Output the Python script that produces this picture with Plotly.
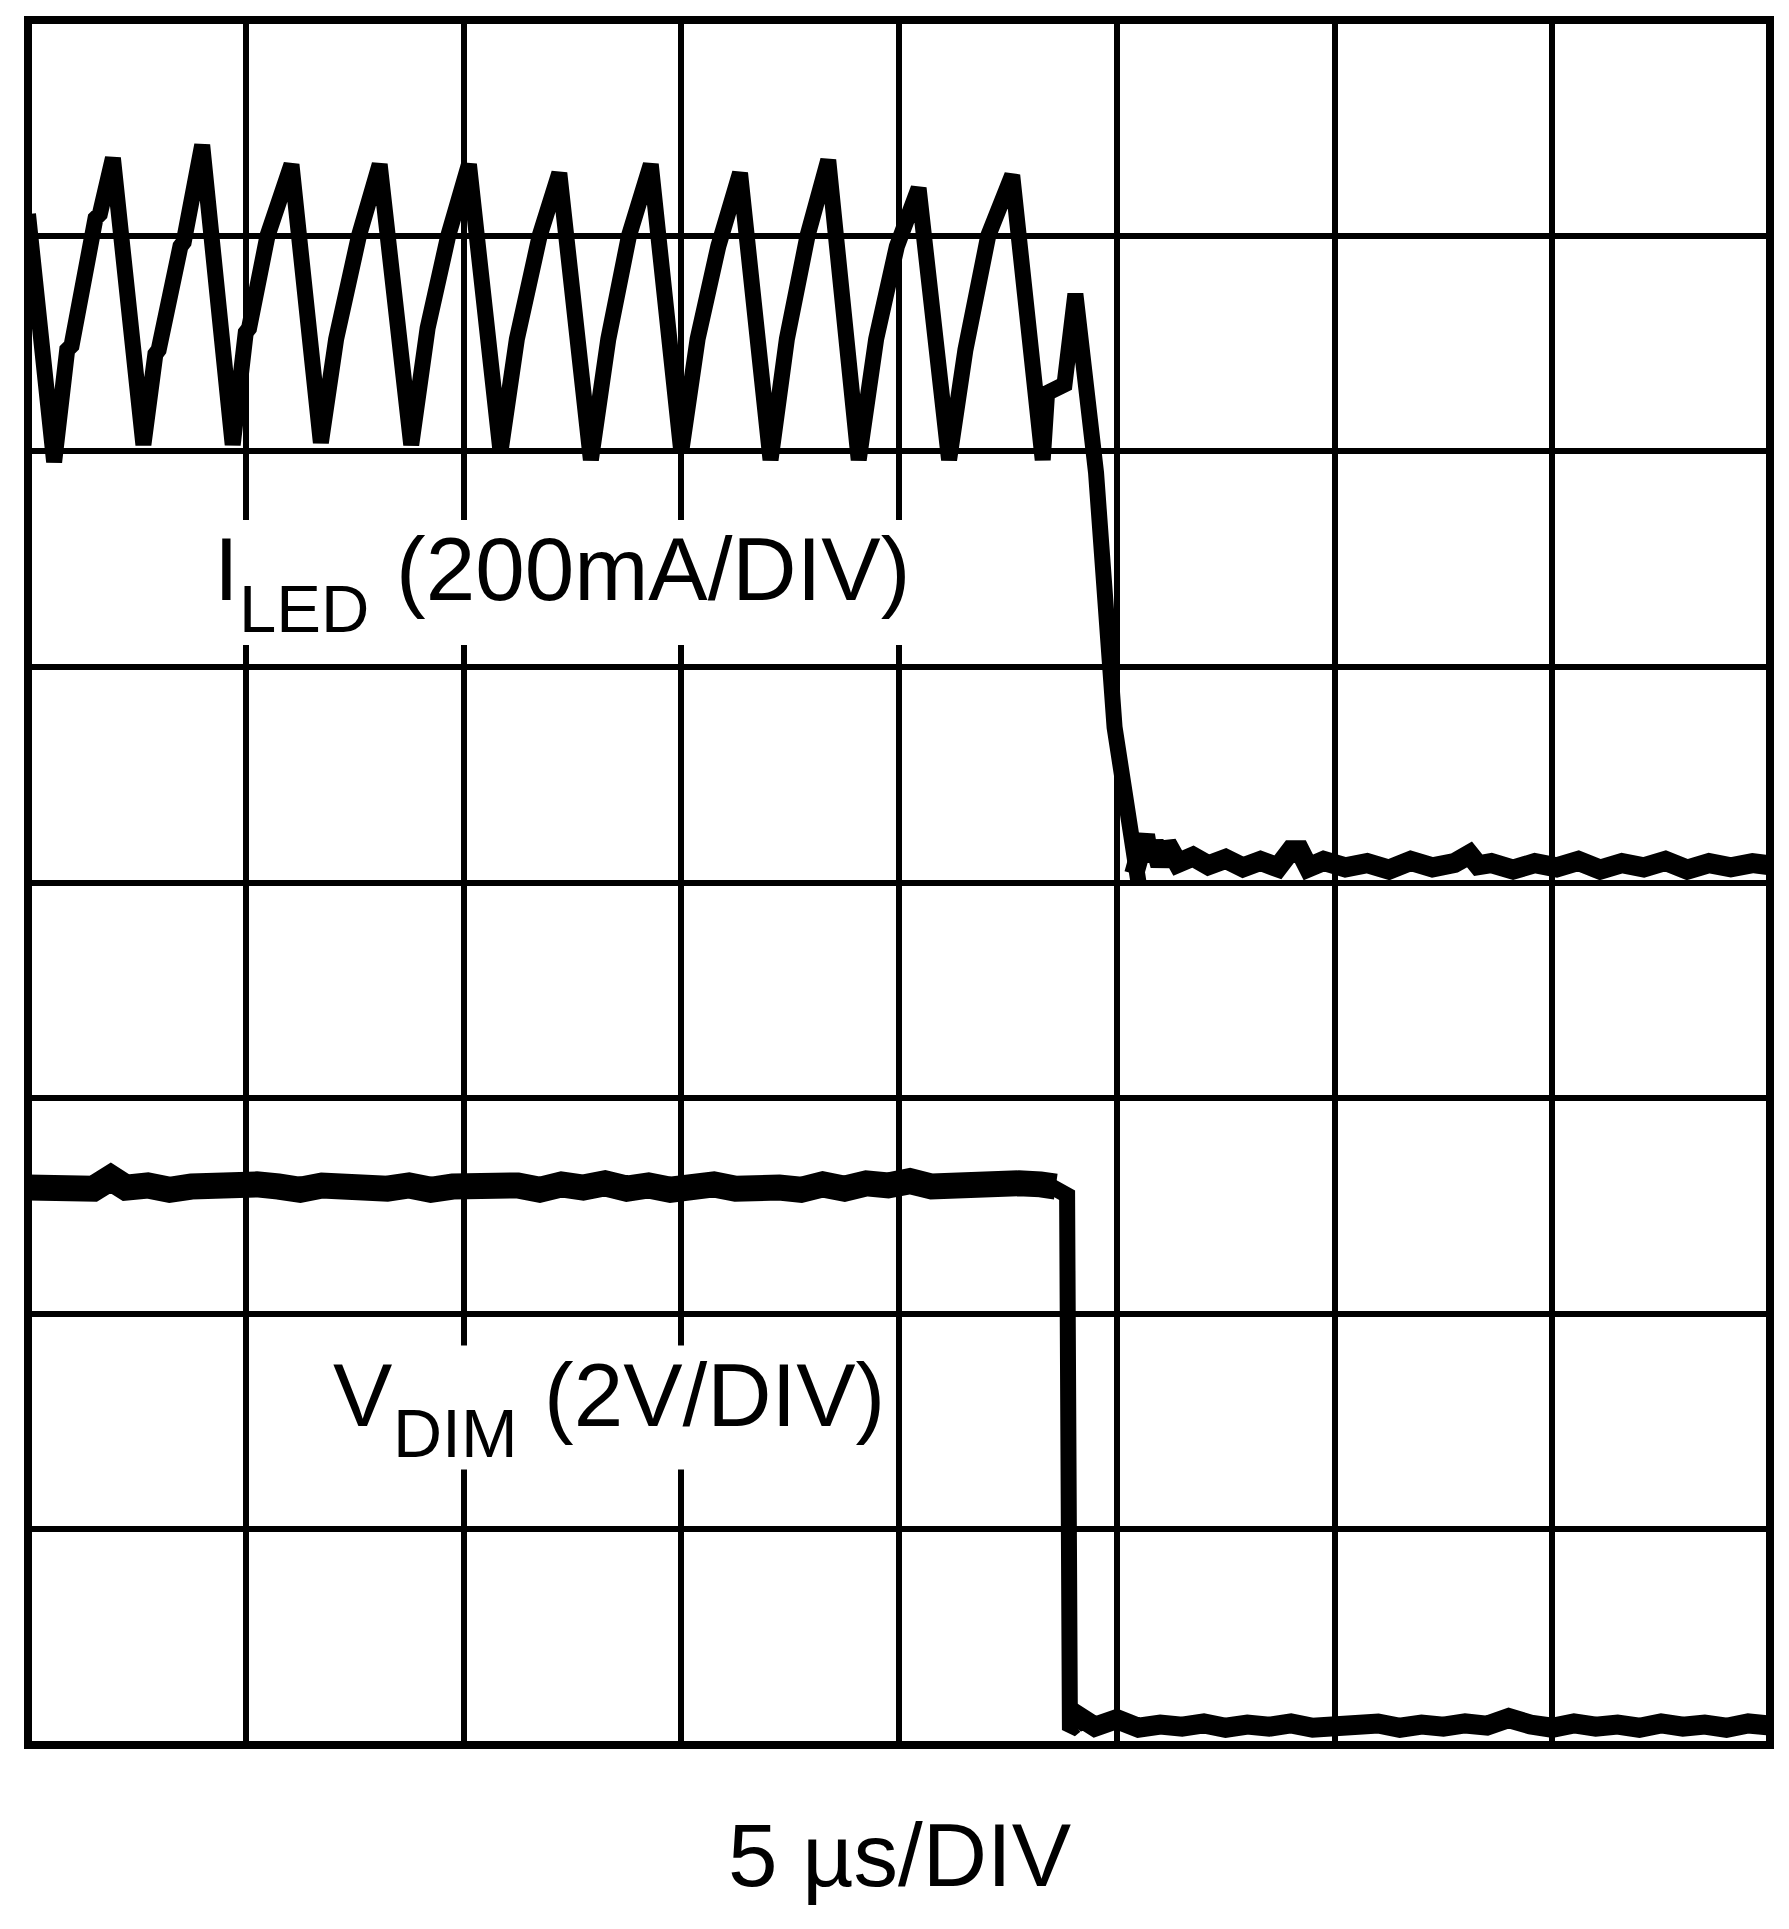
import plotly.graph_objects as go

# ---- data (time and amplitude in scope divisions) ----
iled_ripple_t = [0.00, 0.12, 0.18, 0.20, 0.31, 0.33, 0.39,
                 0.53, 0.585, 0.60, 0.70, 0.715, 0.80,
                 0.94, 1.00, 1.015, 1.10, 1.21,
                 1.345, 1.40, 1.415, 1.52, 1.615,
                 1.76, 1.82, 1.835, 1.93, 2.025,
                 2.17, 2.23, 2.245, 2.35, 2.44,
                 2.585, 2.65, 2.665, 2.76, 2.86,
                 3.00, 3.06, 3.075, 3.17, 3.27,
                 3.41, 3.47, 3.485, 3.58, 3.675,
                 3.815, 3.88, 3.895, 3.99, 4.09,
                 4.23, 4.29, 4.305, 4.41, 4.52,
                 4.66, 4.68, 4.76, 4.78, 4.81,
                 4.905, 4.975, 4.99, 5.10]
iled_ripple_v = [7.10, 5.95, 6.47, 6.49, 7.08, 7.10, 7.36,
                 6.03, 6.45, 6.47, 6.95, 6.97, 7.42,
                 6.03, 6.55, 6.57, 7.00, 7.33,
                 6.04, 6.50, 6.52, 7.00, 7.33,
                 6.03, 6.55, 6.57, 7.00, 7.33,
                 6.00, 6.50, 6.52, 7.00, 7.29,
                 5.96, 6.50, 6.52, 7.00, 7.33,
                 6.00, 6.50, 6.52, 6.95, 7.29,
                 5.96, 6.50, 6.52, 7.00, 7.35,
                 5.96, 6.50, 6.52, 6.95, 7.22,
                 5.96, 6.45, 6.47, 7.00, 7.28,
                 5.96, 6.27, 6.31, 6.47, 6.73,
                 5.90, 5.00, 4.72, 4.00]
iled_flat_t = [5.08, 5.13, 5.15, 5.17, 5.20, 5.23, 5.28, 5.35, 5.42, 5.50,
               5.58, 5.66, 5.74, 5.80, 5.84, 5.88, 5.95, 6.05, 6.15, 6.25,
               6.35, 6.45, 6.55, 6.62, 6.66, 6.72, 6.82, 6.92, 7.02, 7.12,
               7.22, 7.32, 7.42, 7.52, 7.62, 7.72, 7.82, 7.92, 8.00]
iled_flat_v = [4.04, 4.22, 4.10, 4.19, 4.08, 4.18, 4.09, 4.12, 4.08, 4.11,
               4.07, 4.10, 4.07, 4.15, 4.15, 4.07, 4.10, 4.07, 4.09, 4.06,
               4.10, 4.07, 4.09, 4.13, 4.08, 4.09, 4.06, 4.09, 4.07, 4.10,
               4.06, 4.09, 4.07, 4.10, 4.06, 4.09, 4.07, 4.09, 4.08]

vdim_high_t = [0.00, 0.10, 0.20, 0.30, 0.38, 0.45, 0.55, 0.65, 0.75, 0.85,
               0.95, 1.05, 1.15, 1.25, 1.35, 1.45, 1.55, 1.65, 1.75, 1.85,
               1.95, 2.05, 2.15, 2.25, 2.35, 2.45, 2.55, 2.65, 2.75, 2.85,
               2.95, 3.05, 3.15, 3.25, 3.35, 3.45, 3.55, 3.65, 3.75, 3.85,
               3.95, 4.05, 4.15, 4.25, 4.35, 4.45, 4.55, 4.65, 4.72]
vdim_high_v = [2.585, 2.575, 2.590, 2.580, 2.630, 2.585, 2.595, 2.575, 2.590, 2.600,
               2.580, 2.600, 2.590, 2.575, 2.595, 2.585, 2.605, 2.580, 2.595, 2.575,
               2.590, 2.600, 2.580, 2.595, 2.575, 2.600, 2.585, 2.605, 2.580, 2.595,
               2.575, 2.590, 2.600, 2.580, 2.595, 2.585, 2.575, 2.600, 2.580, 2.605,
               2.595, 2.615, 2.590, 2.600, 2.595, 2.610, 2.605, 2.600, 2.590]
vdim_edge_t = [4.70, 4.75, 4.772, 4.785, 4.81]
vdim_edge_v = [2.59, 2.575, 2.55, 0.07, 0.09]
vdim_low_t = [4.80, 4.83, 4.90, 5.00, 5.10, 5.20, 5.30, 5.40, 5.50, 5.60, 5.70,
              5.80, 5.90, 6.00, 6.10, 6.20, 6.30, 6.40, 6.50, 6.60, 6.70,
              6.80, 6.90, 7.00, 7.10, 7.20, 7.30, 7.40, 7.50, 7.60, 7.70,
              7.80, 7.90, 8.00]
vdim_low_v = [0.09, 0.13, 0.085, 0.12, 0.08, 0.095, 0.085, 0.100, 0.080, 0.095, 0.085,
              0.100, 0.080, 0.090, 0.085, 0.100, 0.080, 0.095, 0.085, 0.100, 0.090,
              0.125, 0.095, 0.080, 0.100, 0.085, 0.095, 0.080, 0.100, 0.085, 0.095,
              0.080, 0.100, 0.090]

grid_ticks = [1, 2, 3, 4, 5, 6, 7]

# label pieces: (text, x_div, y_div_of_box_bottom, font_px)
iled_parts = [("I", 0.850, 5.217, 89), ("LED", 0.9626, 5.091, 67), ("(200mA/DIV)", 1.6845, 5.217, 89)]
vdim_parts = [("V", 1.394, 1.3855, 89), ("DIM", 1.672, 1.267, 68), ("(2V/DIV)", 2.364, 1.3855, 89)]
time_label = "5 µs/DIV"

# white label backgrounds (x0, x1, y0, y1 in divisions)
label_boxes = [(0.824, 4.076, 5.101, 5.681), (1.366, 3.961, 1.278, 1.853)]

FONT = "Liberation Sans, Arial, Helvetica, sans-serif"

fig = go.Figure()
traces = [
    (iled_flat_t, iled_flat_v, 20),
    (iled_ripple_t, iled_ripple_v, 16),
    (vdim_high_t, vdim_high_v, 26),
    (vdim_low_t, vdim_low_v, 20),
    (vdim_edge_t, vdim_edge_v, 16),
]
for tx, vy, w in traces:
    fig.add_trace(go.Scatter(x=tx, y=vy, mode="lines",
                             line=dict(color="black", width=w),
                             showlegend=False, hoverinfo="skip"))

axis_common = dict(range=[0, 8], tickvals=grid_ticks, showticklabels=False,
                   ticks="", showgrid=True, gridcolor="black", gridwidth=6,
                   zeroline=False, showline=False, fixedrange=True)
fig.update_xaxes(**axis_common)
fig.update_yaxes(**axis_common)

for x0, x1, y0, y1 in label_boxes:
    fig.add_shape(type="rect", xref="x", yref="y", x0=x0, x1=x1, y0=y0, y1=y1,
                  line=dict(width=0), fillcolor="white", layer="above")

fig.add_shape(type="rect", xref="paper", yref="paper", x0=0, x1=1, y0=0, y1=1,
              line=dict(color="black", width=8), layer="above")

for txt, xd, yd, fs in iled_parts + vdim_parts:
    fig.add_annotation(x=xd, y=yd, xref="x", yref="y", xanchor="left", yanchor="bottom",
                       text=txt, showarrow=False, borderpad=0,
                       font=dict(family=FONT, size=fs, color="black"))

fig.add_annotation(x=0.5, y=-0.0936, xref="paper", yref="paper", xanchor="center", yanchor="bottom",
                   text=time_label, showarrow=False, borderpad=0,
                   font=dict(family=FONT, size=89, color="black"))

# page body adds an 8px offset; size the figure so the plot lands where the reference's does
fig.update_layout(width=1781, height=1921,
                  margin=dict(l=20, r=19, t=12, b=184, autoexpand=False),
                  paper_bgcolor="white", plot_bgcolor="white",
                  showlegend=False)

fig.write_html("out.html", config={"displayModeBar": False})
